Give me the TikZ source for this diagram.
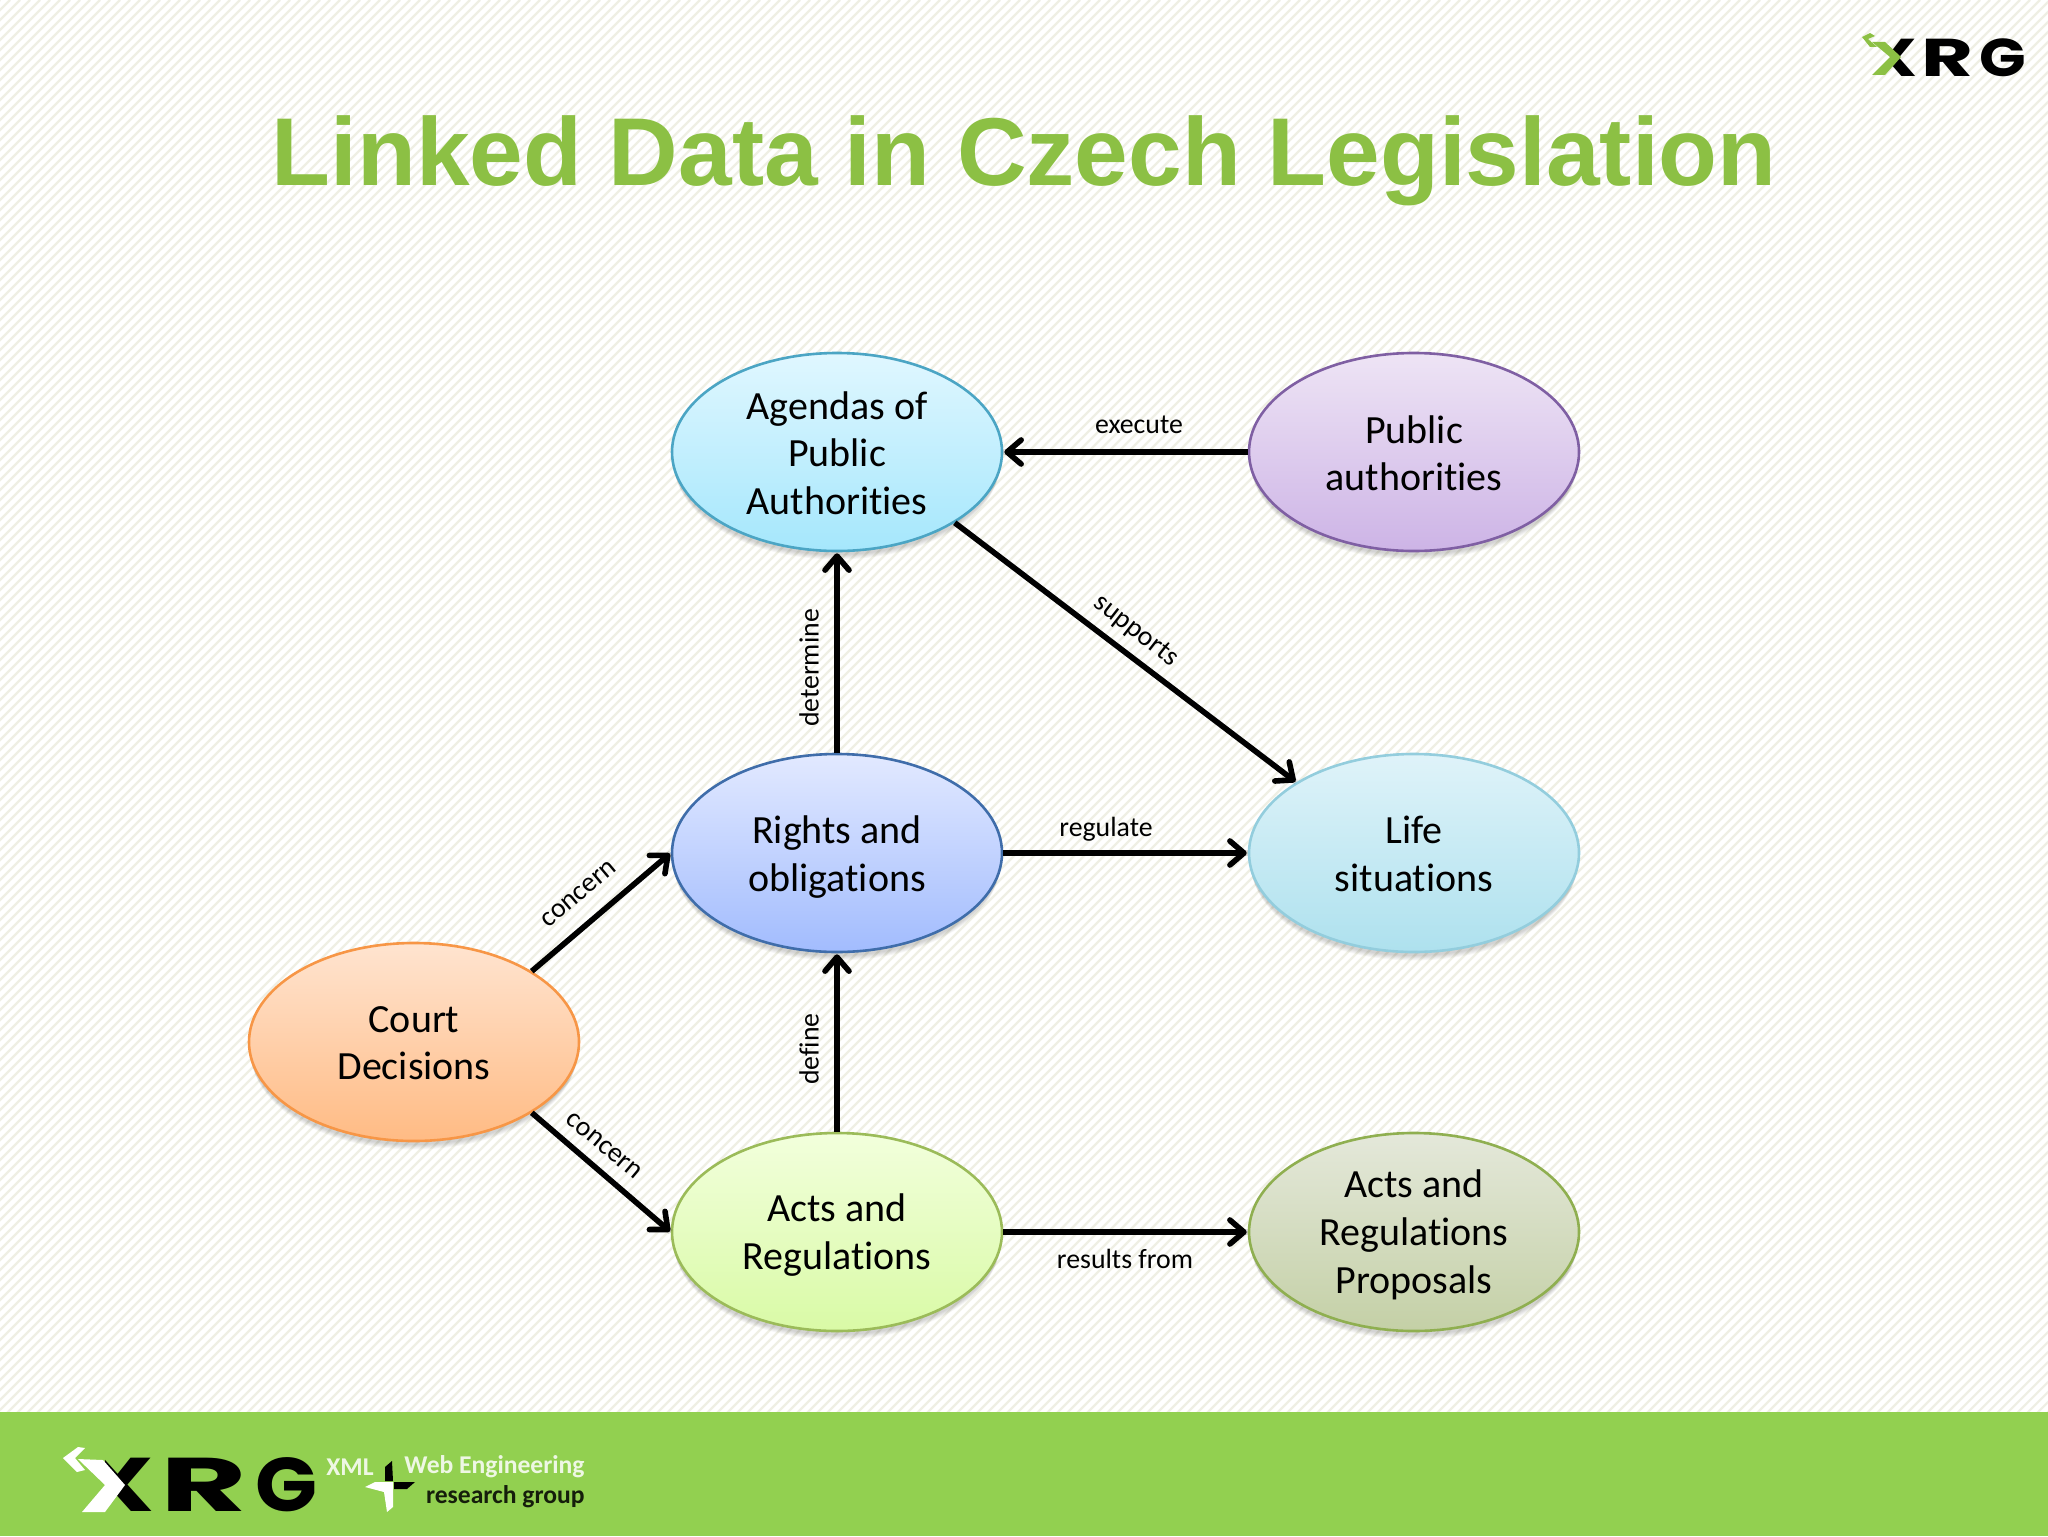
\documentclass[tikz,border=0pt]{standalone}
\usepackage{fontspec}
\usepackage{graphicx}
\setmainfont[RawFeature={-liga}]{Carlito}
\newfontfamily\titlefont{Liberation Sans}
\newfontfamily\logofont{Poppins}
\usetikzlibrary{arrows.meta,shapes.geometric}
\definecolor{titlegreen}{HTML}{8CC044}
\definecolor{barc}{HTML}{92D050}
\definecolor{stripec}{HTML}{EFEFE4}
\definecolor{agT}{HTML}{E0F7FF}\definecolor{agB}{HTML}{A5E7FC}\definecolor{agS}{HTML}{4BA5C4}
\definecolor{puT}{HTML}{EEE4F5}\definecolor{puB}{HTML}{CDB4E6}\definecolor{puS}{HTML}{7F5FA3}
\definecolor{riT}{HTML}{E2E9FF}\definecolor{riB}{HTML}{A2BCFE}\definecolor{riS}{HTML}{3F6DAA}
\definecolor{liT}{HTML}{DFF3F9}\definecolor{liB}{HTML}{AEE1EE}\definecolor{liS}{HTML}{93CDDD}
\definecolor{coT}{HTML}{FFE4D0}\definecolor{coB}{HTML}{FFBB84}\definecolor{coS}{HTML}{F79646}
\definecolor{acT}{HTML}{F2FFDC}\definecolor{acB}{HTML}{D9FAA6}\definecolor{acS}{HTML}{9BBB59}
\definecolor{prT}{HTML}{E4E8DA}\definecolor{prB}{HTML}{C4D0A6}\definecolor{prS}{HTML}{8FAF50}
\tikzset{
  bubble/.style={ellipse,minimum width=165pt,minimum height=99pt,inner sep=0pt,
    font=\fontsize{20pt}{23.9pt}\selectfont,text=black,draw=#1S,line width=1.3pt,top color=#1T,bottom color=#1B},
  link/.style={line width=2.8pt,-{Straight Barb[length=7pt,width=12pt,round]},black,shorten >=0.5pt,shorten <=0pt},
  lineshadow/.style={line width=2.8pt,black,opacity=0.12},
  lab/.style={font=\fontsize{13.9pt}{16pt}\selectfont,inner sep=0pt,text=black},
  halo/.style={fill=black,opacity=0.035,draw=none},
  logotext/.style={font=\bfseries\fontsize{12.8pt}{15pt}\selectfont,opacity=0.85,inner sep=0pt}
}
\newcommand{\softshadow}[3]{%
  \foreach \d in {0,2,4,6,8}{\fill[halo] (#1,#2+4+\d*0.8) ellipse[x radius=#3-\d*0.25,y radius=99-\d*0.25];}}
% centred lines, moved down by #1 pt, taking no width so that the ellipse keeps its size
\newcommand{\tx}[2]{\raisebox{-#1pt}[\height][\depth]{\makebox[0pt]{\parbox{150pt}{\centering #2}}}}
% the letters of the logo: font size, X scale, gap, R scale, gap, G scale
\newcommand{\xrgword}[6]{{\logofont\bfseries\fontsize{#1pt}{#1pt}\selectfont
  \scalebox{#2}[1]{X}\kern#3pt\scalebox{#4}[1]{R}\kern#5pt\scalebox{#6}[1]{G}}}
\begin{document}
\begin{tikzpicture}[x=0.5pt,y=-0.5pt]
\useasboundingbox (0,0) rectangle (2048,1536);
\fill[white] (0,0) rectangle (2048,1536);
\begin{scope}
\clip (0,0) rectangle (2048,1412);
\foreach \i in {-1540,-1530,...,2050}{
  \draw[stripec,line width=1.1pt] (\i,1540) -- (\i+1540,0);
}
\end{scope}
\fill[barc] (0,1412) rectangle (2048,1536);

% title
\node[font=\titlefont\bfseries\fontsize{48.2pt}{54pt}\selectfont,text=titlegreen,inner sep=0pt] (title) at (1024,161) {Linked Data in Czech Legislation};

% shadows
\softshadow{837}{452}{165}
\softshadow{1414}{452}{165}
\softshadow{837}{853}{165}
\softshadow{1414}{853}{165}
\softshadow{414}{1042}{165}
\softshadow{837}{1232}{165}
\softshadow{1414}{1232}{165}

% nodes
\node[bubble=ag] (ag) at (837,452) {\tx{0.6}{Agendas of\\Public\\Authorities}};
\node[bubble=pu] (pub) at (1414,452) {\tx{0.6}{Public\\authorities}};
\node[bubble=ri] (ri) at (837,853) {\tx{2}{Rights and\\obligations}};
\node[bubble=li] (li) at (1414,853) {\tx{0.6}{Life\\situations}};
\node[bubble=co] (co) at (414,1042) {\tx{0.6}{Court\\Decisions}};
\node[bubble=ac] (ac) at (837,1232) {\tx{1.6}{Acts and\\Regulations}};
\node[bubble=pr] (pr) at (1414,1232) {\tx{1.3}{Acts and\\Regulations\\Proposals}};

% connector shadows
\begin{scope}[yshift=-1.5pt]
\draw[lineshadow] (pub.west) -- (ag.east);
\draw[lineshadow] (ag.-31) -- (li.149);
\draw[lineshadow] (ri.east) -- (li.west);
\draw[lineshadow] (co.31) -- (ri.west);
\draw[lineshadow] (co.-31) -- (ac.west);
\draw[lineshadow] (ac.east) -- (pr.west);
\end{scope}

% connectors
\draw[link] (pub.west) -- (ag.east);
\draw[link] (ri.north) -- (ag.south);
\draw[link] (ag.-31) -- (li.149);
\draw[link] (ri.east) -- (li.west);
\draw[link] (co.31) -- (ri.west);
\draw[link] (co.-31) -- (ac.west);
\draw[link] (ac.north) -- (ri.south);
\draw[link] (ac.east) -- (pr.west);

% labels
\node[lab] (l1) at (1139,425) {execute};
\node[lab] (l2) at (1106,829) {regulate};
\node[lab] (l3) at (1125,1259) {results from};
\node[lab,rotate=90] (l4) at (809,668) {determine};
\node[lab,rotate=90] (l5) at (809,1049) {define};
\node[lab,rotate=-38] (l6) at (1136,631) {supports};
\node[lab,rotate=40] (l7) at (579,894) {concern};
\node[lab,rotate=-40] (l8) at (604,1146) {concern};

% footer logo
\begin{scope}
\clip (105,1440) rectangle (330,1530);
\node[inner sep=0pt,text=black] (logob) at (199,1485) {\xrgword{38}{1.36}{3}{1.75}{4}{1.07}};
\end{scope}
\fill[white] (63,1458) -- (78,1447) -- (85,1448) -- (75,1458) -- (85,1470) -- (77,1472) -- cycle;
\fill[white] (78,1459) -- (103,1460) -- (125,1485) -- (105,1512) -- (82,1512) -- (105,1485) -- cycle;
\node[logotext,text=white] (xml) at (350,1467) {XML};
\node[logotext,text=white,anchor=east] (web) at (585,1467) {Web Engineering};
\node[logotext,text=black,anchor=east] (rg) at (585,1497) {research group};
\fill[white] (365,1487) -- (375,1482) -- (393,1482) -- (393,1507) -- (387,1512) -- (384,1492) -- cycle;
\fill[black] (385,1467) -- (392,1461) -- (393,1481) -- (385,1481) -- cycle;
\fill[black] (394,1482) -- (415,1482) -- (407,1489) -- (394,1489) -- cycle;

% top right logo
\begin{scope}
\clip (1890,20) rectangle (2040,90);
\node[inner sep=0pt,text=black] (logot) at (1947,57.5) {\xrgword{26.6}{1.31}{2}{1.5}{3}{1.15}};
\end{scope}
\fill[titlegreen] (1862,37) -- (1870,33) -- (1875,36) -- (1868,39) -- (1877,47) -- (1870,47) -- cycle;
\fill[titlegreen] (1872,42) -- (1885,42) -- (1901,57) -- (1885,75) -- (1872,75) -- (1890,57) -- cycle;
\end{tikzpicture}
\end{document}
